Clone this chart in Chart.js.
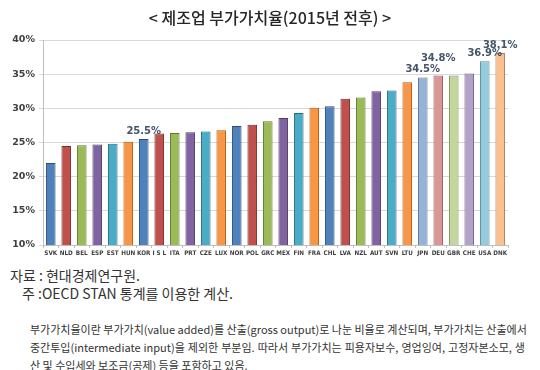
<!DOCTYPE html>
<html>
<head>
<meta charset="utf-8">
<script src="https://cdn.jsdelivr.net/npm/chart.js@4.4.1/dist/chart.umd.min.js"></script>
<style>
  body { margin: 0; width: 540px; height: 370px; background: #fff; position: relative; overflow: hidden;
         font-family: "Noto Sans CJK KR", "Noto Sans", sans-serif; }
  #title { position: absolute; left: 0; top: 5px; width: 540px; text-align: center;
           font-size: 16px; font-weight: 500; color: #262626; }
  #chartBox { position: absolute; left: 0; top: 0; width: 540px; height: 262px; }
  .src { position: absolute; font-size: 14px; color: #333; white-space: nowrap; }
  #note { position: absolute; left: 30px; top: 320px; width: 495px; font-size: 11px; line-height: 18px; color: #333; }
  #note div { text-align: justify; text-align-last: justify; white-space: nowrap; }
  #note div.last { text-align-last: left; }
</style>
</head>
<body>
<div id="chartBox"><canvas id="vaChart" width="540" height="262"></canvas></div>
<div id="title">&lt; 제조업 부가가치율(2015년 전후) &gt;</div>
<div class="src" style="left:10px; top:265px;">자료 : 현대경제연구원.</div>
<div class="src" style="left:22px; top:283px;">주 :OECD STAN 통계를 이용한 계산.</div>
<div id="note">
  <div>부가가치율이란 부가가치(value added)를 산출(gross output)로 나눈 비율로 계산되며, 부가가치는 산출에서</div>
  <div>중간투입(intermediate input)을 제외한 부분임. 따라서 부가가치는 피용자보수, 영업잉여, 고정자본소모, 생</div>
  <div class="last">산 및 수입세와 보조금(공제) 등을 포함하고 있음.</div>
</div>
<script>
// countries, sorted by value added ratio
var countries = ['SVK','NLD','BEL','ESP','EST','HUN','KOR','I S L','ITA','PRT','CZE','LUX','NOR','POL','GRC',
                 'MEX','FIN','FRA','CHL','LVA','NZL','AUT','SVN','LTU','JPN','DEU','GBR','CHE','USA','DNK'];
var valueAdded = [22.0, 24.5, 24.6, 24.7, 24.8, 25.1, 25.5, 26.3, 26.4, 26.5, 26.6, 26.8, 27.4, 27.6, 28.1,
                  28.6, 29.3, 30.1, 30.3, 31.4, 31.6, 32.5, 32.6, 33.8, 34.5, 34.8, 34.8, 35.1, 36.9, 38.1];
// only some bars carry a label
var shownLabels = ['', '', '', '', '', '', '25.5%', '', '', '', '', '', '', '', '',
                   '', '', '', '', '', '', '', '', '', '34.5%', '34.8%', '', '', '36.9%', '38.1%'];
var yTicks = [10, 15, 20, 25, 30, 35, 40];

var fills = ['#4F81BD','#C0504D','#9BBB59','#8064A2','#4BACC6','#F79646'];
var edges = ['#2C4D75','#772C2A','#5F7530','#4D3B62','#276A7C','#B65708'];
var lightFills = ['#95B3D7','#D99694','#C3D69B','#B3A2C7','#93CDDD','#FAC090'];
var lightEdges = ['#5C6F8C','#8F5E5C','#7E8C62','#6E6380','#5E8791','#A67E5C'];

var barFill = countries.map(function(c, i) { return i < 24 ? fills[i % 6] : lightFills[i % 6]; });
var barEdge = countries.map(function(c, i) { return i < 24 ? edges[i % 6] : lightEdges[i % 6]; });

var labelPlugin = {
  id: 'pickedLabels',
  afterDatasetsDraw: function(chart) {
    var ctx = chart.ctx;
    var meta = chart.getDatasetMeta(0);
    ctx.save();
    ctx.font = 'bold 10px "DejaVu Sans", sans-serif';
    ctx.fillStyle = '#44546A';
    ctx.textAlign = 'center';
    ctx.textBaseline = 'bottom';
    meta.data.forEach(function(bar, i) {
      if (!shownLabels[i]) return;
      var lift = countries[i] === 'DEU' ? 12 : 3;
      ctx.fillText(shownLabels[i], bar.x, bar.y - lift);
    });
    ctx.restore();
  }
};

var ctx = document.getElementById('vaChart').getContext('2d');
var chart = new Chart(ctx, {
  type: 'bar',
  data: {
    labels: countries,
    datasets: [{
      data: valueAdded,
      backgroundColor: barFill,
      borderColor: barEdge,
      borderWidth: 1,
      barPercentage: 0.62,
      categoryPercentage: 1
    }]
  },
  options: {
    responsive: false,
    animation: false,
    layout: { padding: { top: 40, right: 32, left: 0, bottom: 0 } },
    plugins: { legend: { display: false }, tooltip: { enabled: false } },
    scales: {
      x: {
        afterFit: function(scale) { scale.height = 17; },
        grid: { drawOnChartArea: false, tickLength: 3, color: '#BFBFBF' },
        border: { color: '#BFBFBF' },
        ticks: { autoSkip: false, maxRotation: 0, padding: 2, color: '#404040',
                 font: { family: '"DejaVu Sans Condensed", "Liberation Sans", sans-serif', size: 6.3, weight: 'bold' } }
      },
      y: {
        min: 10, max: 40,
        afterFit: function(scale) { scale.width = 43; },
        afterBuildTicks: function(scale) { scale.ticks = yTicks.map(function(v) { return { value: v }; }); },
        grid: { color: '#D9D9D9', tickLength: 4 },
        border: { color: '#BFBFBF' },
        ticks: { padding: 4, color: '#404040',
                 font: { family: '"DejaVu Sans", sans-serif', size: 9.5, weight: 'bold' },
                 callback: function(v) { return v + '%'; } }
      }
    }
  },
  plugins: [labelPlugin]
});
</script>
</body>
</html>
